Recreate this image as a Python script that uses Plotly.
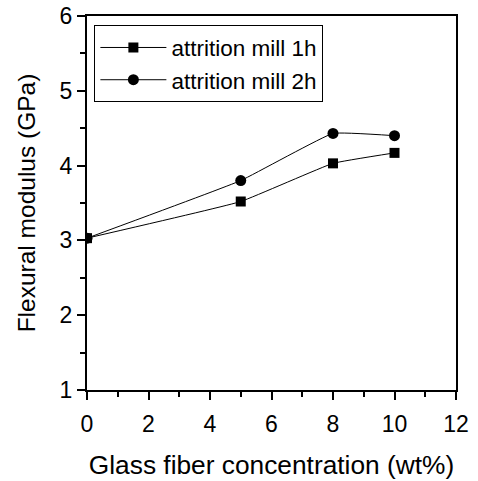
import plotly.graph_objects as go

x_vals = [0, 5, 8, 10]
mill_1h = [3.03, 3.52, 4.03, 4.17]
mill_2h = [3.03, 3.80, 4.43, 4.40]
series_names = ["attrition mill 1h", "attrition mill 2h"]
x_title = "Glass fiber concentration (wt%)"
y_title = "Flexural modulus (GPa)"

fig = go.Figure()
fig.add_trace(go.Scatter(x=x_vals, y=mill_1h, mode="lines+markers", name=series_names[0],
                         line=dict(color="black", width=1, shape="spline", smoothing=0.3),
                         marker=dict(symbol="square", size=10, color="black")))
fig.add_trace(go.Scatter(x=x_vals, y=mill_2h, mode="lines+markers", name=series_names[1],
                         line=dict(color="black", width=1, shape="spline", smoothing=0.3),
                         marker=dict(symbol="circle", size=11, color="black")))

font_family = "Liberation Sans, Arial, sans-serif"
fig.update_layout(
    width=478, height=481,
    margin=dict(l=87, r=22, t=16, b=91, autoexpand=False),
    paper_bgcolor="white", plot_bgcolor="white",
    font=dict(family=font_family, color="black", size=22),
    showlegend=True,
    legend=dict(x=0.02, y=0.975, xanchor="left", yanchor="top",
                bordercolor="black", borderwidth=1, bgcolor="white",
                font=dict(size=22.5), tracegroupgap=0, itemwidth=66),
    xaxis=dict(range=[0, 12], tickvals=[0, 2, 4, 6, 8, 10, 12],
               ticks="outside", ticklen=8, tickwidth=2, tickcolor="black",
               minor=dict(dtick=1, ticks="outside", ticklen=5, tickwidth=2, tickcolor="black"),
               showline=True, linecolor="black", linewidth=2, mirror=True,
               showgrid=False, zeroline=False, automargin=False,
               tickfont=dict(size=23), ticklabelstandoff=4,
               title=dict(text=x_title, font=dict(size=26.3), standoff=20)),
    yaxis=dict(range=[1, 6], tickvals=[1, 2, 3, 4, 5, 6],
               ticks="outside", ticklen=8, tickwidth=2, tickcolor="black",
               minor=dict(dtick=0.5, ticks="outside", ticklen=5, tickwidth=2, tickcolor="black"),
               showline=True, linecolor="black", linewidth=2, mirror=True,
               showgrid=False, zeroline=False, automargin=False,
               tickfont=dict(size=23),
               title=dict(text=y_title, font=dict(size=24.5), standoff=17)),
)
fig.write_html("out.html")
